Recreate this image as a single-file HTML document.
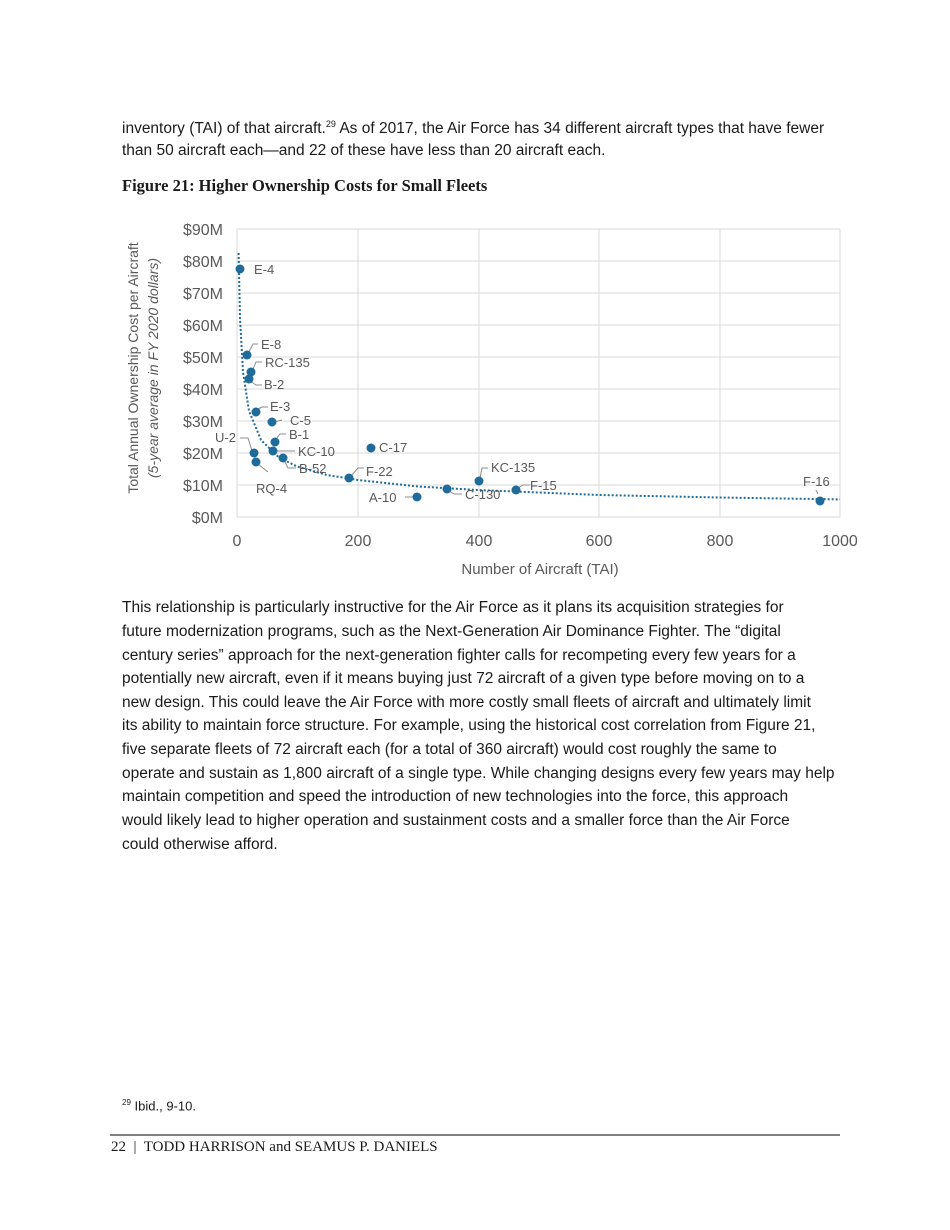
<!DOCTYPE html>
<html><head><meta charset="utf-8"><style>
body{margin:0;background:#fff;width:950px;height:1230px;position:relative;font-family:"Liberation Sans",sans-serif;color:#1a1a1a;}
.t{position:absolute;left:122px;font-size:15.5px;white-space:nowrap;}
.cap{position:absolute;left:122px;top:176px;font-family:"Liberation Serif",serif;font-weight:bold;font-size:16.5px;}
svg{position:absolute;left:0;top:0}
</style></head><body>
<div class="t" style="top:119px">inventory (TAI) of that aircraft.<sup style="font-size:9px">29</sup> As of 2017, the Air Force has 34 different aircraft types that have fewer</div>
<div class="t" style="top:142px">than 50 aircraft each—and 22 of these have less than 20 aircraft each.</div>
<div class="cap">Figure 21: Higher Ownership Costs for Small Fleets</div>
<svg width="950" height="600" font-family="Liberation Sans,sans-serif">
<g stroke="#d9d9d9" stroke-width="1">
<line x1="237" y1="229" x2="840" y2="229"/><line x1="237" y1="261" x2="840" y2="261"/><line x1="237" y1="293" x2="840" y2="293"/><line x1="237" y1="325" x2="840" y2="325"/><line x1="237" y1="357" x2="840" y2="357"/><line x1="237" y1="389" x2="840" y2="389"/><line x1="237" y1="421" x2="840" y2="421"/><line x1="237" y1="453" x2="840" y2="453"/><line x1="237" y1="485" x2="840" y2="485"/><line x1="237" y1="517" x2="840" y2="517"/>
<line x1="237" y1="229" x2="237" y2="517"/><line x1="358" y1="229" x2="358" y2="517"/><line x1="479" y1="229" x2="479" y2="517"/><line x1="599" y1="229" x2="599" y2="517"/><line x1="720" y1="229" x2="720" y2="517"/><line x1="840" y1="229" x2="840" y2="517"/>
</g>
<g fill="#595959" font-size="16" text-anchor="end">
<text x="223" y="235">$90M</text><text x="223" y="267">$80M</text><text x="223" y="299">$70M</text><text x="223" y="331">$60M</text><text x="223" y="363">$50M</text><text x="223" y="395">$40M</text><text x="223" y="427">$30M</text><text x="223" y="459">$20M</text><text x="223" y="491">$10M</text><text x="223" y="523">$0M</text>
</g>
<g fill="#595959" font-size="16" text-anchor="middle">
<text x="237" y="546">0</text><text x="358" y="546">200</text><text x="479" y="546">400</text><text x="599" y="546">600</text><text x="720" y="546">800</text><text x="840" y="546">1000</text>
<text x="540" y="574" font-size="15">Number of Aircraft (TAI)</text>
<text transform="translate(138,368) rotate(-90)" font-size="14">Total Annual Ownership Cost per Aircraft</text>
<text transform="translate(158,368) rotate(-90)" font-size="14" font-style="italic">(5-year average in FY 2020 dollars)</text>
</g>
<polyline fill="none" stroke="#1f6b9a" stroke-width="2" stroke-dasharray="2,2" points="238.6,253 240,318 243,372 249,411 261,440 279,457.5 297,466.5 327,475 358,480 418,486.5 478,490 599,495 719,497.5 840,499.4"/>
<g stroke="#8c8c8c" stroke-width="1" fill="none">
<polyline points="249,352 253,344 258,344"/><polyline points="253,369 256,362 262,362"/><polyline points="250,381 256,385 262,385"/><polyline points="258,409 262,407 268,407"/><polyline points="274,422 282,420"/><polyline points="276,439 280,434 286,434"/><polyline points="275,451 295,451"/><polyline points="252,451 248,438 240,438"/><polyline points="258,464 268,472"/><polyline points="284,460 288,468 296,468"/><polyline points="351,476 358,468 364,468"/><polyline points="405,497 413,497"/><polyline points="449,491 454,494 462,494"/><polyline points="480,478 482,468 488,468"/><polyline points="518,488 523,485 530,485"/><polyline points="818,494 816,490"/>
</g>
<g fill="#1f6b9a">
<circle cx="240" cy="269" r="4.5"/><circle cx="247" cy="355" r="4.5"/><circle cx="251" cy="372" r="4.5"/><circle cx="249" cy="379" r="4.5"/><circle cx="256" cy="412" r="4.5"/><circle cx="272" cy="422" r="4.5"/><circle cx="275" cy="442" r="4.5"/><circle cx="273" cy="451" r="4.5"/><circle cx="254" cy="453" r="4.5"/><circle cx="256" cy="462" r="4.5"/><circle cx="283" cy="458" r="4.5"/><circle cx="349" cy="478" r="4.5"/><circle cx="371" cy="448" r="4.5"/><circle cx="417" cy="497" r="4.5"/><circle cx="447" cy="489" r="4.5"/><circle cx="479" cy="481" r="4.5"/><circle cx="516" cy="490" r="4.5"/><circle cx="820" cy="501" r="4.5"/>
</g>
<g fill="#595959" font-size="13">
<text x="254" y="274">E-4</text><text x="261" y="349">E-8</text><text x="265" y="367">RC-135</text><text x="264" y="389">B-2</text><text x="270" y="411">E-3</text><text x="290" y="425">C-5</text><text x="289" y="439">B-1</text><text x="298" y="456">KC-10</text><text x="215" y="442">U-2</text><text x="256" y="493">RQ-4</text><text x="299" y="473">B-52</text><text x="366" y="476">F-22</text><text x="379" y="452">C-17</text><text x="369" y="502">A-10</text><text x="465" y="499">C-130</text><text x="491" y="472">KC-135</text><text x="530" y="490">F-15</text><text x="803" y="486">F-16</text>
</g>
</svg>
<div class="t" style="top:599px">This relationship is particularly instructive for the Air Force as it plans its acquisition strategies for</div>
<div class="t" style="top:623px">future modernization programs, such as the Next-Generation Air Dominance Fighter. The “digital</div>
<div class="t" style="top:647px">century series” approach for the next-generation fighter calls for recompeting every few years for a</div>
<div class="t" style="top:670px">potentially new aircraft, even if it means buying just 72 aircraft of a given type before moving on to a</div>
<div class="t" style="top:694px">new design. This could leave the Air Force with more costly small fleets of aircraft and ultimately limit</div>
<div class="t" style="top:717px">its ability to maintain force structure. For example, using the historical cost correlation from Figure 21,</div>
<div class="t" style="top:741px">five separate fleets of 72 aircraft each (for a total of 360 aircraft) would cost roughly the same to</div>
<div class="t" style="top:765px">operate and sustain as 1,800 aircraft of a single type. While changing designs every few years may help</div>
<div class="t" style="top:788px">maintain competition and speed the introduction of new technologies into the force, this approach</div>
<div class="t" style="top:812px">would likely lead to higher operation and sustainment costs and a smaller force than the Air Force</div>
<div class="t" style="top:836px">could otherwise afford.</div>
<div class="t" style="top:1098px;font-size:13px"><sup style="font-size:8px">29</sup> Ibid., 9-10.</div>
<div style="position:absolute;left:110px;top:1134px;width:730px;height:2px;background:#808080"></div>
<div class="t" style="left:111px;top:1139px;font-family:'Liberation Serif',serif;font-size:15px">22 &nbsp;|&nbsp; TODD HARRISON and SEAMUS P. DANIELS</div>
</body></html>
